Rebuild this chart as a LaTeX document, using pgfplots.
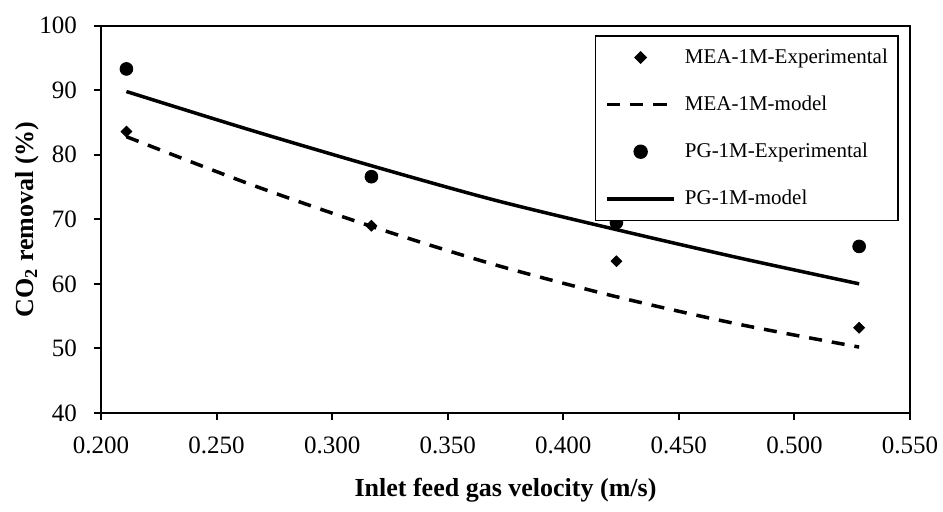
\documentclass[border=0pt]{standalone}
\usepackage{pgfplots}
\pgfplotsset{compat=1.18}
\usepackage{fontspec}
\setmainfont{Liberation Serif}
\begin{document}
\begin{tikzpicture}
\begin{axis}[
  at={(0,0)}, anchor=south west,
  scale only axis, width=404.5pt, height=193.6pt,
  xmin=0.2, xmax=0.55, ymin=40, ymax=100,
  xtick={0.2,0.25,...,0.55}, ytick={40,50,...,100},
  xtick pos=left, ytick pos=left, tick align=outside,
  major tick length=3.5pt,
  axis line style={line width=1pt}, every tick/.style={line width=1pt, black},
  /pgf/number format/assume math mode=true,
  tick label style={font=\fontsize{12.5}{14}\selectfont},
  x tick label style={yshift=-5pt},
  xticklabel style={/pgf/number format/.cd, fixed, fixed zerofill, precision=3},
  yticklabel style={xshift=-5pt},
  xlabel={\textbf{Inlet feed gas velocity (m/s)}},
  ylabel={\textbf{CO\textsubscript{2} removal (\%)}},
  every axis x label/.style={at={(axis description cs:0.5,-0.199)}, anchor=center, font=\fontsize{13}{15}\selectfont},
  every axis y label/.style={at={(axis description cs:-0.0915,0.5)}, anchor=center, rotate=90, font=\fontsize{13}{15}\selectfont},
  legend style={at={(0.986,0.976)}, anchor=north east, draw=black, line width=0.8pt,
    font=\fontsize{10.5}{12}\selectfont, inner xsep=5pt, inner ysep=6.5pt,
    row sep=14.75pt, column sep=4.5pt, nodes={inner sep=0pt}},
  legend cell align=left,
  legend image code/.code={\draw[mark repeat=2,mark phase=2,#1] plot coordinates {(0pt,0pt) (16.75pt,0pt) (33.5pt,0pt)};},
]
\addplot[only marks, mark=square*, mark options={rotate=45}, mark size=1.9pt, black] coordinates {
 (0.211,83.6) (0.317,69.0) (0.423,63.5) (0.528,53.2)};
\addlegendentry{MEA-1M-Experimental}
\addplot[black, line width=1.75pt, dash pattern=on 6.5pt off 5pt, smooth] coordinates {
 (0.211,82.8) (0.264,75.5) (0.317,68.9) (0.370,63.0) (0.423,58.0) (0.475,53.8) (0.528,50.2)};
\addlegendentry{MEA-1M-model}
\addplot[only marks, mark=*, mark size=3.2pt, black] coordinates {
 (0.211,93.3) (0.317,76.6) (0.423,69.5) (0.528,65.8)};
\addlegendentry{PG-1M-Experimental}
\addplot[black, line width=1.75pt, smooth] coordinates {
 (0.211,89.8) (0.264,83.9) (0.317,78.3) (0.370,73.0) (0.423,68.4) (0.475,64.1) (0.528,60.0)};
\addlegendentry{PG-1M-model}
\end{axis}
\pgfresetboundingbox
\path (-50.5pt,-49.5pt) rectangle (421pt,206.45pt);
\end{tikzpicture}
\end{document}
